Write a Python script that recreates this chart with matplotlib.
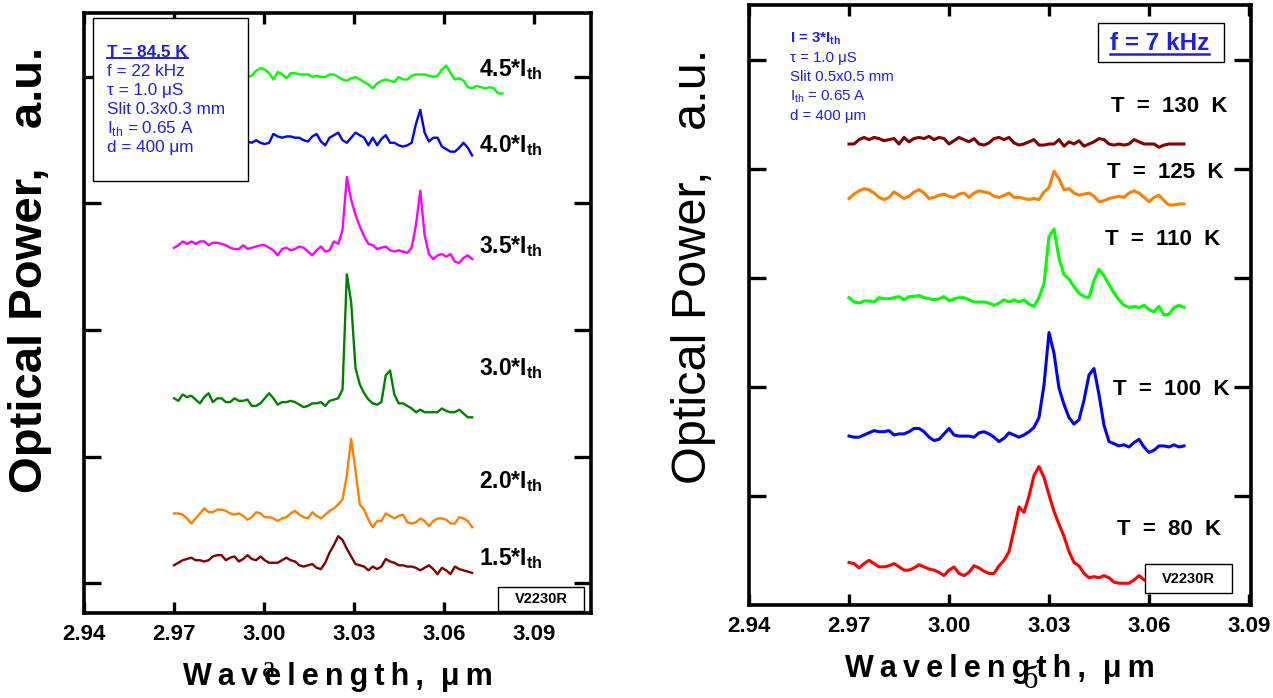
import numpy as np
import matplotlib
matplotlib.use('Agg')
import matplotlib.pyplot as plt
from matplotlib.patches import Rectangle
from matplotlib.lines import Line2D

plt.rcParams['font.family'] = ['Liberation Sans', 'DejaVu Sans']
plt.rcParams['mathtext.fontset'] = 'custom'
plt.rcParams['mathtext.rm'] = 'Liberation Sans'
plt.rcParams['mathtext.bf'] = 'Liberation Sans:bold'

# ---- panel a: T = 84.5 K, spectra at several pump currents ----
wl_start_a = 2.970
wl_step_a = 0.00144
currents = ['1.5', '2.0', '3.0', '3.5', '4.0', '4.5']
first_a = [0, 0, 0, 0, 16, 16]          # first sample index of each scan
level_a = [16, 53, 144, 265, 350, 400]  # stacking offset, a.u.

p15 = [-2, 0, 2, 3, 4, 2, 2, 1, 2, 5, 6, 6, 2, 4, 5, 1, 3, 6, 3, 2,
       5, 2, 0, 0, 0, 2, 4, 2, 1, -2, -3, -2, -1, -4, -5, 0, 8, 14, 21, 18,
       11, 5, -1, -2, -3, -6, -3, -5, -3, 3, 1, 0, -2, -2, -3, -3, -4, -6, -4, -2,
       -5, -9, -4, -6, -9, -3, -5, -6, -7, -8]
p20 = [2, 2, 1, -2, -6, -2, 2, 6, 3, 3, 5, 5, 4, 2, 1, 2, 0, -3, -1, 3,
       2, -1, -1, -2, -4, -2, -1, 2, 4, 1, -1, -2, 3, 0, -2, 1, 4, 6, 9, 13,
       32, 61, 36, 9, 5, -3, -9, -4, -4, 2, 0, -2, 0, 1, -5, -6, -5, -2, -4, -8,
       -4, -2, -2, -3, -6, -6, -1, -2, -4, -9]
p30 = [2, 0, 5, 3, 4, 1, -2, 3, 6, -1, 2, 2, -1, -1, 2, 0, 0, 1, -4, -4,
       -2, 2, 6, 2, -3, -1, -1, 0, -1, -3, -5, -4, -2, -2, -1, -4, 0, 1, 2, 9,
       100, 78, 26, 13, 6, 1, -2, -3, -1, 20, 24, 5, -2, -2, -4, -6, -9, -7, -9, -9,
       -9, -9, -6, -8, -9, -9, -7, -10, -13, -13]
p35 = [0, 2, 5, 3, 5, 3, 5, 5, 2, 4, 4, 3, 2, 0, -1, -1, 2, -1, 0, 1,
       2, 2, 0, -2, -6, -1, 0, -2, -1, 1, 0, -3, -6, -2, 1, -3, -2, 5, 3, 14,
       56, 38, 26, 17, 9, 3, 2, -1, 0, 1, -2, -3, -2, -3, -4, 0, 18, 45, 10, -5,
       -9, -6, -5, -7, -5, -11, -12, -8, -6, -9]
p40 = [-2, -1, -2, 0, -2, -3, -2, 5, 3, 2, 3, 3, 2, 2, 0, -1, 3, 5, -1, -4,
       2, 4, 6, 0, -2, 2, 6, 4, 2, -4, 2, -4, 1, 4, -2, -2, -4, -5, -4, -2,
       13, 24, 6, -1, 2, 2, -5, -7, -9, -9, -6, -2, -6, -12]
p45 = [2, 0, 1, 5, 7, 6, 3, -2, 4, 2, -1, 3, 3, 2, 2, 2, 0, 1, 0, 0,
       2, 2, 0, -2, -3, -1, 0, -2, -4, -6, -9, -5, -3, -2, -3, -4, 0, -2, -2, 1,
       2, 2, 2, 1, 0, 1, 6, 9, 3, -2, -1, -3, -8, -9, -7, -8, -9, -8, -9, -13,
       -13]
spectra_a = [p15, p20, p30, p35, p40, p45]
colors_a = ['#800000', '#ff8000', '#008000', '#ff00ff', '#0000ff', '#00ff00']
label_pos_a = [(3.0718, 14), (3.0718, 75), (3.0718, 164),
               (3.0718, 261), (3.0718, 341), (3.0718, 401)]

# ---- panel b: I = 3*Ith, spectra at several temperatures ----
wl_start_b = 2.970
wl_step_b = 0.0015
temps = ['80', '100', '110', '125', '130']
level_b = [35, 156, 280, 376, 425]

r80 = [4, 3, -1, 3, 6, 3, 0, 0, 1, 3, 0, -3, -3, -1, 2, 0, -2, -3, -5, -8,
       -3, 0, -6, -8, -5, 1, -1, -4, -6, -6, 1, 6, 14, 34, 55, 50, 65, 84, 92, 82,
       66, 51, 39, 28, 14, 4, 1, -6, -10, -9, -10, -8, -10, -14, -15, -15, -15, -12, -8, -12,
       -12]
r100 = [-1, -2, -2, 0, 2, 4, 3, 3, 4, 0, 1, 1, 3, 6, 6, 3, -2, -5, -4, 1,
        6, 0, -1, -1, -1, -2, 2, 3, 1, -2, -6, -3, 2, 0, -2, 0, 3, 7, 16, 46,
        94, 75, 43, 28, 16, 10, 14, 32, 55, 61, 37, 9, -6, -8, -10, -9, -11, -7, -4, -11,
        -16, -14, -10, -10, -11, -9, -11, -10]
r110 = [2, -2, -3, -1, -1, -2, 2, 1, 1, 2, 3, 0, 3, 3, 4, 2, 1, 0, 1, 3,
        -1, 1, 2, 2, 0, -2, -2, -2, -3, -5, -3, 0, -2, 0, -2, 0, -4, -6, 2, 15,
        58, 65, 38, 23, 19, 12, 6, 3, 2, 18, 28, 22, 14, 6, 0, -5, -7, -6, -7, -5,
        -9, -11, -6, -14, -13, -7, -5, -7]
r125 = [-3, 1, 4, 6, 5, 2, -2, -4, -2, 3, 0, -3, -1, 3, 5, 2, -3, -2, 0, 1,
        -1, -2, 1, 2, -2, 2, 4, 3, 2, -1, -2, 0, 2, -2, -2, -3, -4, -3, -4, 3,
        7, 22, 15, 5, 6, 2, 0, 1, 2, -1, -6, -5, -3, -2, -1, -2, 2, 4, 2, -2,
        -6, -2, 0, -5, -9, -9, -8, -8]
r130 = [-2, -2, 2, 4, 2, 4, 3, 1, 2, 3, -2, 4, 0, 3, 4, 3, 5, 2, 4, 3,
        -2, 1, 4, 2, 0, 3, -2, -3, -1, 3, 4, 2, 4, -1, -3, -2, 0, 2, -3, -3,
        -2, -2, 2, -4, 0, -2, 1, -4, -2, 0, 3, 2, -2, -3, -2, -3, -2, 2, 0, -2,
        -2, -2, -5, -3, -2, -2, -2, -2]
spectra_b = [r80, r100, r110, r125, r130]
colors_b = ['#ff0000', '#0000ff', '#00ff00', '#ff8000', '#800000']
label_pos_b = [(3.0504, 64), (3.0492, 193), (3.0468, 330),
               (3.0474, 392), (3.0486, 452)]

xticks = [2.94, 2.97, 3.00, 3.03, 3.06, 3.09]
xticklabels = ['2.94', '2.97', '3.00', '3.03', '3.06', '3.09']

info_a = ['T = 84.5 K', 'f = 22 kHz', 'τ = 1.0 μS', 'Slit 0.3x0.3 mm',
          r'I$_{\mathrm{th}}$ = 0.65 A', 'd = 400 μm']
info_b = [r'I = 3*I$_{\mathbf{th}}$', 'τ = 1.0 μS', 'Slit 0.5x0.5 mm',
          r'I$_{\mathrm{th}}$ = 0.65 A', 'd = 400 μm']

blue_txt = '#1e1ee6'
thin = '\u2009'
xlab = thin.join('Wavelength,') + '  ' + thin.join('μm')

fig = plt.figure(figsize=(12.73, 6.98), dpi=100)
ax_a = fig.add_axes([0.0660, 0.1218, 0.3983, 0.8596])
ax_b = fig.add_axes([0.5884, 0.1332, 0.3943, 0.8596])

underlined = []


def frame(ax):
    for s in ax.spines.values():
        s.set_linewidth(2.6)
    ax.tick_params(axis='both', direction='in', top=True, right=True, width=2.4)
    ax.tick_params(axis='x', length=8, pad=8)
    ax.tick_params(axis='y', length=12, labelleft=False)
    ax.set_xticks(xticks)
    ax.set_xticklabels(xticklabels, fontsize=16, fontweight='bold')


# panel a
for k in range(len(spectra_a)):
    n = len(spectra_a[k])
    wl = wl_start_a + wl_step_a * (first_a[k] + np.arange(n))
    ax_a.plot(wl, level_a[k] + np.array(spectra_a[k]), color=colors_a[k], lw=1.7,
              solid_joinstyle='round', zorder=2)
    ax_a.text(label_pos_a[k][0], label_pos_a[k][1], currents[k] + r'*I$_{\mathbf{th}}$',
              fontsize=16.5, fontweight='bold', ha='left', va='baseline')
ax_a.set_xlim(2.94, 3.109)
ax_a.set_ylim(-23.7, 450.6)
ax_a.set_yticks([0, 100, 200, 300, 400])
frame(ax_a)

ax_a.add_patch(Rectangle((0.0178, 0.72), 0.3057, 0.2717, transform=ax_a.transAxes,
                         facecolor='white', edgecolor='black', lw=1.0, zorder=5))
ys = [0.9267, 0.895, 0.8633, 0.8317, 0.80, 0.7683]
for j, s in enumerate(info_a):
    t = ax_a.text(0.0454, ys[j], s, transform=ax_a.transAxes, fontsize=12.3,
                  color=blue_txt, fontweight='bold' if j == 0 else 'normal',
                  va='baseline', zorder=6)
    if j == 0:
        underlined.append((t, blue_txt, 1.4))

ax_a.add_patch(Rectangle((0.8166, 0.0033), 0.1694, 0.04, transform=ax_a.transAxes,
                         facecolor='white', edgecolor='black', lw=1.0, zorder=5))
ax_a.text(0.9013, 0.0233, 'V2230R', transform=ax_a.transAxes, fontsize=10.5,
          fontweight='bold', ha='center', va='center', zorder=6)

ax_a.set_xlabel(xlab, fontsize=22, fontweight='bold', labelpad=12)
ax_a.set_ylabel('Optical Power,   a.u.', fontsize=34, fontweight='bold')
ax_a.yaxis.set_label_coords(-0.064, 0.572)

# panel b
for k in range(len(spectra_b)):
    n = len(spectra_b[k])
    wl = wl_start_b + wl_step_b * np.arange(n)
    ax_b.plot(wl, level_b[k] + np.array(spectra_b[k]), color=colors_b[k], lw=2.2,
              solid_joinstyle='round', zorder=2)
    ax_b.text(label_pos_b[k][0], label_pos_b[k][1], 'T  =  ' + temps[k] + '  K',
              fontsize=16, fontweight='bold', ha='left', va='baseline')
ax_b.set_xlim(2.94, 3.0906)
ax_b.set_ylim(0, 550.5)
ax_b.set_yticks([100, 200, 300, 400, 500])
frame(ax_b)

ys = [0.9383, 0.9058, 0.8733, 0.8408, 0.8083]
for j, s in enumerate(info_b):
    ax_b.text(0.0817, ys[j], s, transform=ax_b.transAxes, fontsize=10.8,
              color=blue_txt, fontweight='bold' if j == 0 else 'normal',
              va='baseline', zorder=6)

ax_b.add_patch(Rectangle((0.695, 0.905), 0.251, 0.065, transform=ax_b.transAxes,
                         facecolor='white', edgecolor='black', lw=1.0, zorder=5))
t = ax_b.text(0.719, 0.925, 'f = 7 kHz', transform=ax_b.transAxes, fontsize=17.5,
              fontweight='bold', color=blue_txt, va='baseline', zorder=6)
underlined.append((t, blue_txt, 1.8))

ax_b.add_patch(Rectangle((0.7888, 0.02), 0.1732, 0.0483, transform=ax_b.transAxes,
                         facecolor='white', edgecolor='black', lw=1.0, zorder=5))
ax_b.text(0.8754, 0.0442, 'V2230R', transform=ax_b.transAxes, fontsize=10.5,
          fontweight='bold', ha='center', va='center', zorder=6)

ax_b.set_xlabel(xlab, fontsize=22, fontweight='bold', labelpad=12)
ax_b.set_ylabel('Optical Power,   a.u.', fontsize=35)
ax_b.yaxis.set_label_coords(-0.066, 0.565)

# panel letters
fig.text(269 / 1273, 1 - 677 / 698, 'а', fontsize=22, family='Liberation Serif',
         ha='center', va='baseline')
fig.text(1030 / 1273, 1 - 688 / 698, 'б', fontsize=22, family='Liberation Serif',
         ha='center', va='baseline')

# underline the bold headings
fig.canvas.draw()
inv = fig.transFigure.inverted()
for t, c, w in underlined:
    bb = t.get_window_extent()
    x0, y0 = inv.transform((bb.x0, bb.y0 + 1.5))
    x1, _ = inv.transform((bb.x1, bb.y0 + 1.5))
    fig.add_artist(Line2D([x0, x1], [y0, y0], transform=fig.transFigure,
                          color=c, lw=w, zorder=7))

fig.savefig('out.png', dpi=100)
